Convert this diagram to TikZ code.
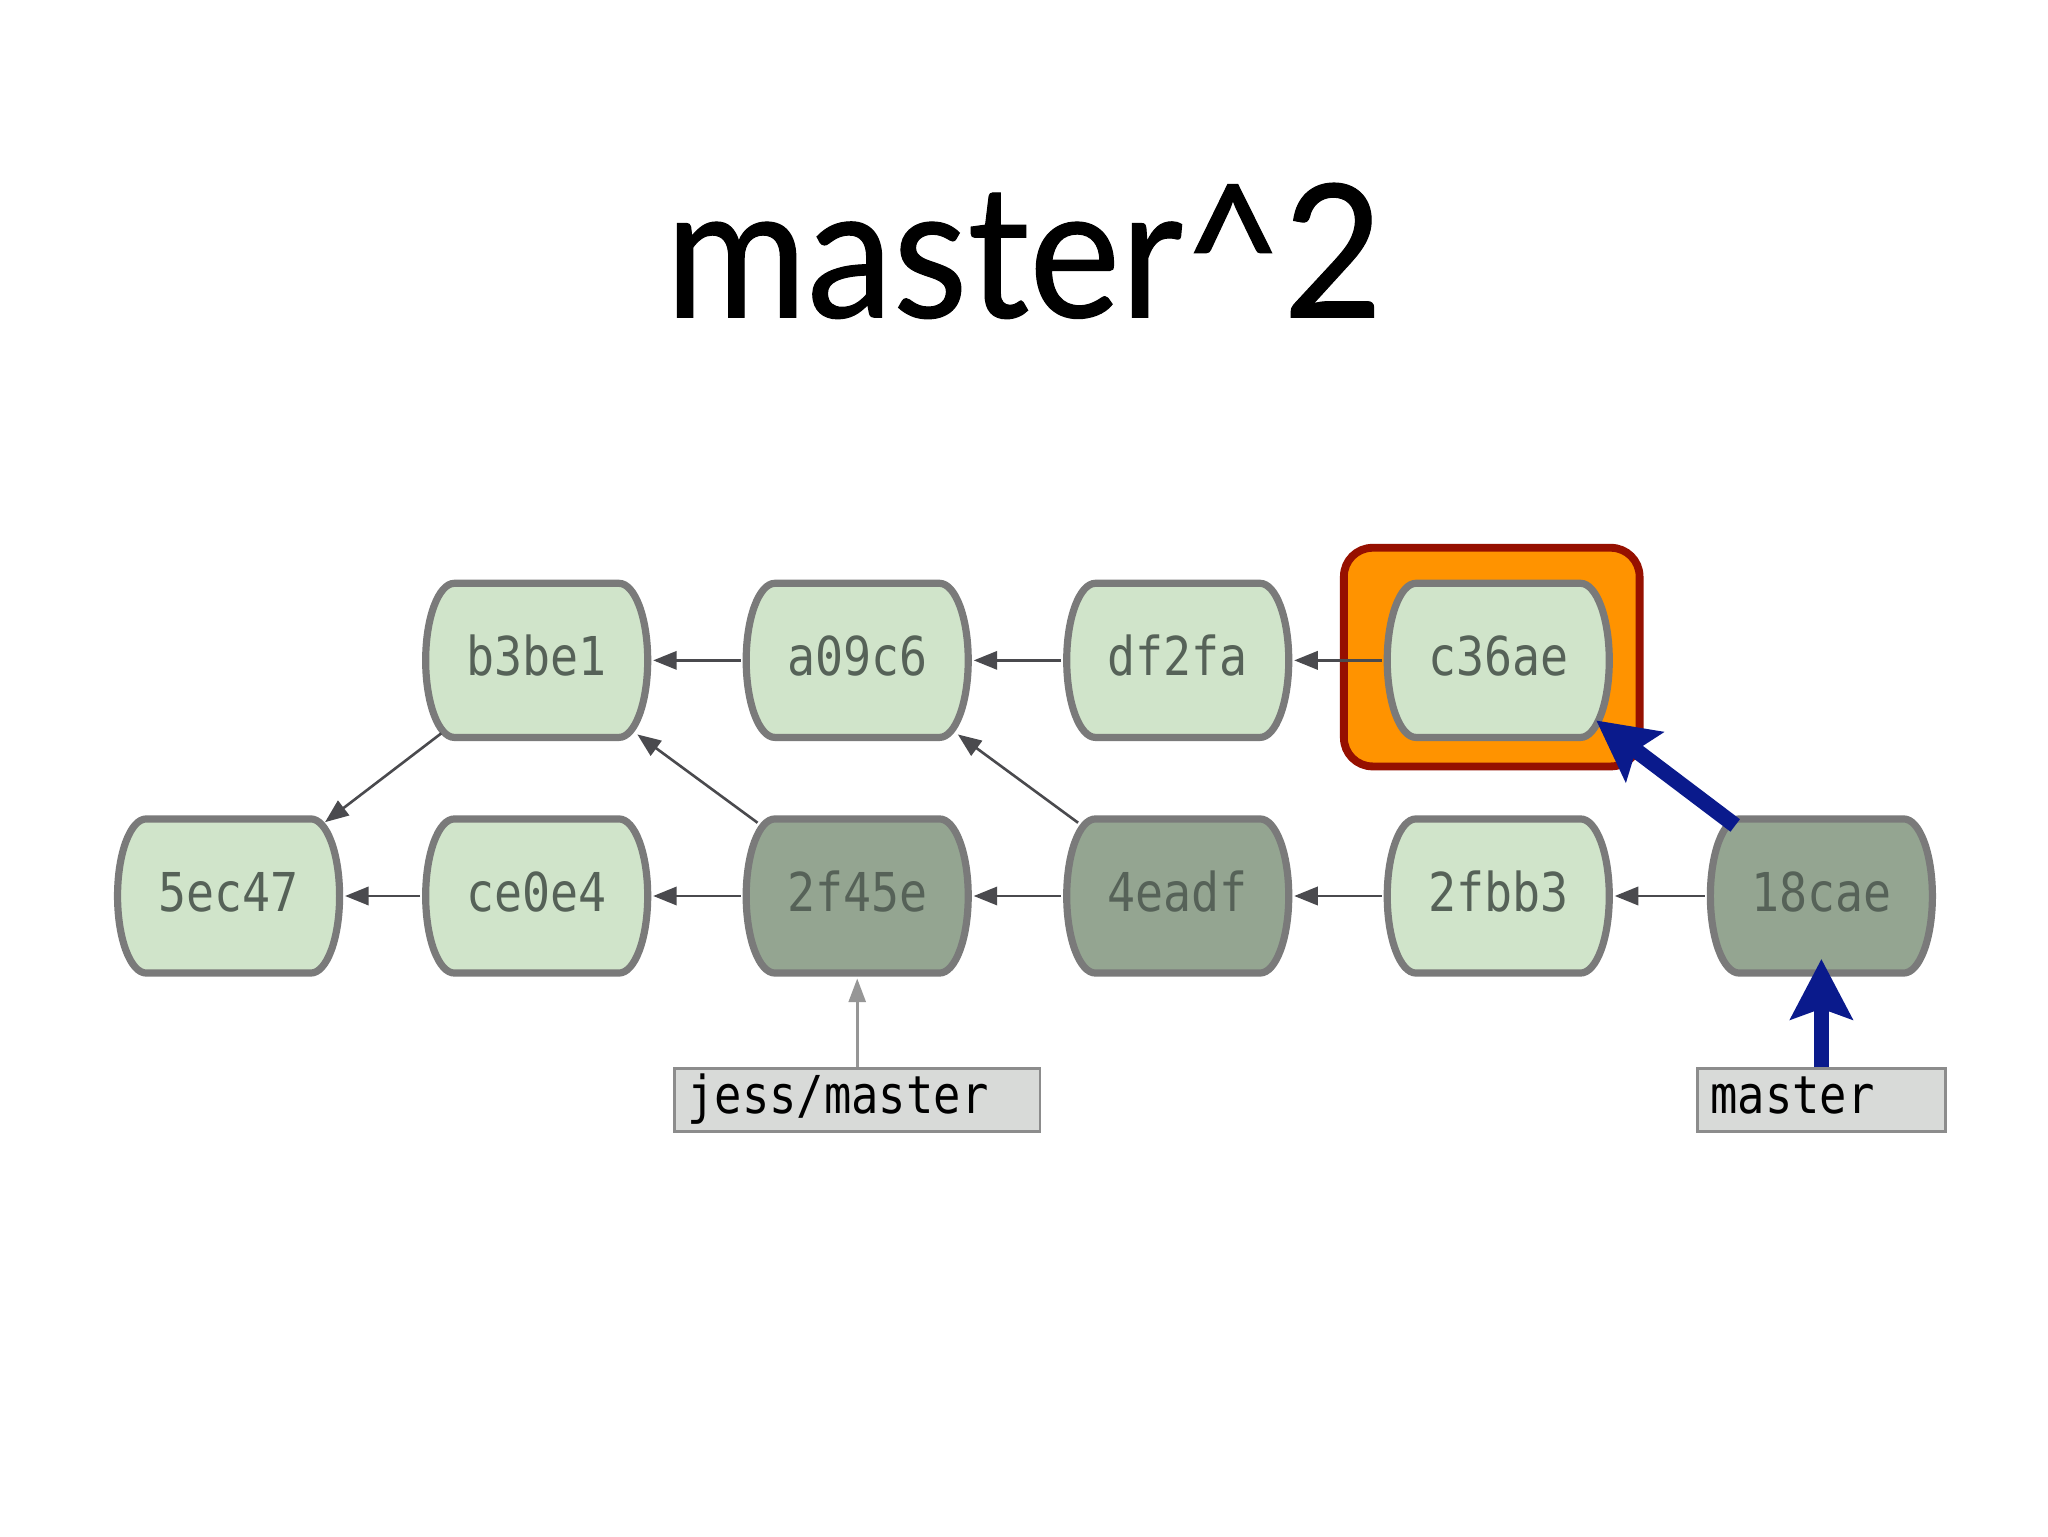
\documentclass[tikz,border=0pt]{standalone}
\usepackage{fontspec}
\usetikzlibrary{positioning,arrows.meta,fit,backgrounds}

\newfontfamily\titlefont[FakeStretch=0.93, FakeBold=0.6]{Lato}
\newfontfamily\hashfont[FakeStretch=0.87]{DejaVu Sans Mono}

\definecolor{commitlight}{RGB}{208,228,202}
\definecolor{commitdark}{RGB}{148,165,145}
\definecolor{commitedge}{RGB}{122,122,122}
\definecolor{hashtext}{RGB}{86,98,88}
\definecolor{parentline}{RGB}{74,74,78}
\definecolor{reffill}{RGB}{216,218,216}
\definecolor{refedge}{RGB}{140,140,140}
\definecolor{refline}{RGB}{150,150,150}
\definecolor{headblue}{RGB}{10,26,140}
\definecolor{hilitefill}{RGB}{255,147,0}
\definecolor{hiliteedge}{RGB}{150,16,0}

\begin{document}
\begin{tikzpicture}[
			x=1pt, y=1pt
			,node distance=54pt and 67pt
			,commit/.style={minimum width=178pt, minimum height=126pt, inner sep=0pt,
				font=\hashfont\fontsize{41}{41}\selectfont, text=hashtext,
				text height=23pt, text depth=0pt,
				path picture={
					\path[fill=#1, draw=commitedge, line width=5.5pt]
						([shift={(-63pt,59pt)}]path picture bounding box.center) -- ++(126pt,0pt)
						arc[start angle=90, end angle=-90, x radius=22pt, y radius=59pt]
						-- ++(-126pt,0pt)
						arc[start angle=270, end angle=90, x radius=22pt, y radius=59pt] -- cycle;
				}}
			,commit/.default=commitlight
			,refbox/.style={draw=refedge, fill=reffill, line width=2pt,
				inner xsep=10pt, inner ysep=0pt, minimum height=48pt, align=left,
				font=\hashfont\fontsize{40}{40}\selectfont, text height=30pt, text depth=9pt}
			,hilite/.style={draw=hiliteedge, fill=hilitefill, line width=6pt,
				rounded corners=22pt, inner xsep=24pt, inner ysep=20.5pt}
			,parent/.style={draw=parentline, line width=2pt, -{Triangle[length=18pt, width=14pt]}}
			,skew/.style={shorten <=-12pt, shorten >=-11pt}
			,refarrow/.style={draw=refline, line width=2pt, -{Triangle[length=18pt, width=13pt]}}
			,headarrow/.style={draw=headblue, line width=12pt, -{Stealth[length=46pt, width=47pt, inset=8pt]}}
		]
			\useasboundingbox (0,0) rectangle (1568,1176);

			\node[font=\titlefont\fontsize{142}{142}\selectfont, anchor=base] (title) at (784,933) {master\textasciicircum 2};

			% bottom row
			\node[commit] (5ec47) at (175,490) {5ec47};
			\node[commit, right=57.5pt of 5ec47] (ce0e4) {ce0e4};
			\node[commit=commitdark, right=of ce0e4] (2f45e) {2f45e};
			\node[commit=commitdark, right=of 2f45e] (4eadf) {4eadf};
			\node[commit, right=of 4eadf] (2fbb3) {2fbb3};
			\node[commit=commitdark, right=69pt of 2fbb3] (18cae) {18cae};
			% top row
			\node[commit, above=of ce0e4] (b3be1) {b3be1};
			\node[commit, right=of b3be1] (a09c6) {a09c6};
			\node[commit, right=of a09c6] (df2fa) {df2fa};
			\node[commit, right=of df2fa] (c36ae) {c36ae};

			\node[refbox, text width=260pt, below=68pt of 2f45e] (jess) {jess/master};
			\node[refbox, text width=170pt, below=68pt of 18cae] (master) {master};

			\begin{scope}[on background layer]
				\fill[white] (0,0) rectangle (1568,1176);
				\node[hilite, fit=(c36ae), xshift=-5pt, yshift=2.5pt] (c36hl) {};
			\end{scope}

			\draw[parent] (a09c6) -- (b3be1);
			\draw[parent] (df2fa) -- (a09c6);
			\draw[parent] (c36ae) -- (df2fa);
			\draw[parent] (ce0e4) -- (5ec47);
			\draw[parent] (2f45e) -- (ce0e4);
			\draw[parent] (4eadf) -- (2f45e);
			\draw[parent] (2fbb3) -- (4eadf);
			\draw[parent] (18cae) -- (2fbb3);
			\draw[parent, skew] (b3be1) -- (5ec47);
			\draw[parent, skew] (2f45e) -- (b3be1);
			\draw[parent, skew] (4eadf) -- (a09c6);

			\draw[refarrow] (jess) -- (2f45e);
			\draw[headarrow, shorten >=-15pt] (master) -- (18cae);
			\draw[headarrow] ([shift={(-66pt,54pt)}]18cae.center) -- ([shift={(75pt,-46pt)}]c36ae.center);
		\end{tikzpicture}
\end{document}
